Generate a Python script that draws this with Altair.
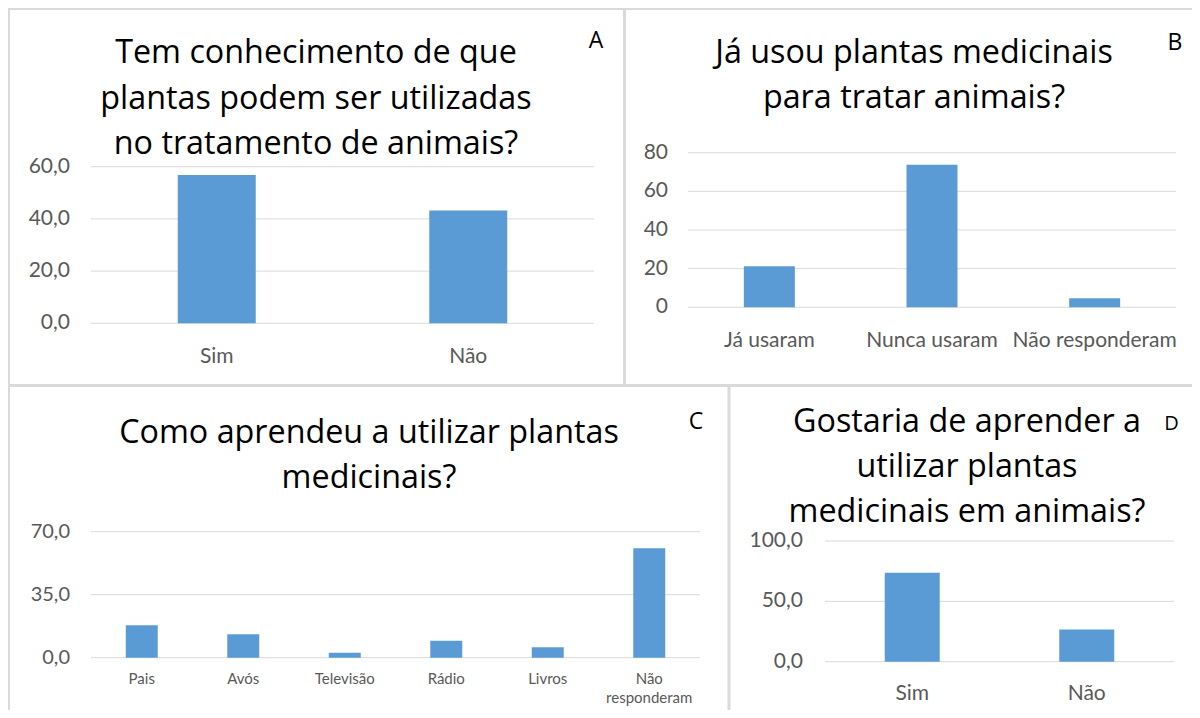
import altair as alt
import pandas as pd

# ---------------- data ----------------
a_title = ["Tem conhecimento de que", "plantas podem ser utilizadas", "no tratamento de animais?"]
a_cats = ["Sim", "Não"]
a_labels = ["Sim", "Não"]
a_vals = [56.8, 43.2]
a_ticks = [0, 20, 40, 60]
a_tick_labels = ["0,0", "20,0", "40,0", "60,0"]

b_title = ["Já usou plantas medicinais", "para tratar animais?"]
b_cats = ["Já usaram", "Nunca usaram", "Não responderam"]
b_labels = ["Já usaram", "Nunca usaram", "Não responderam"]
b_vals = [21.2, 73.7, 4.7]
b_ticks = [0, 20, 40, 60, 80]
b_tick_labels = ["0", "20", "40", "60", "80"]

c_title = ["Como aprendeu a utilizar plantas", "medicinais?"]
c_cats = ["Pais", "Avós", "Televisão", "Rádio", "Livros", "Não responderam"]
c_labels = ["Pais", "Avós", "Televisão", "Rádio", "Livros", "Não\nresponderam"]
c_vals = [18.0, 13.0, 2.8, 9.4, 5.8, 60.8]
c_ticks = [0, 35, 70]
c_tick_labels = ["0,0", "35,0", "70,0"]

d_title = ["Gostaria de aprender a", "utilizar plantas", "medicinais em animais?"]
d_cats = ["Sim", "Não"]
d_labels = ["Sim", "Não"]
d_vals = [73.6, 26.6]
d_ticks = [0, 50, 100]
d_tick_labels = ["0,0", "50,0", "100,0"]

# ---------------- style ----------------
FONT = "Lato"
TFONT = "Open Sans"
BLUE = "#5B9BD5"
GRID = "#D9D9D9"
GREY = "#595959"
BORDER = "#DADADA"
PAD = 4
O = 8 + PAD  # page margin + padding


def P(v):
    return v - O


one = pd.DataFrame({"k": [0]})


def panel(cats, labels, vals, ticks, tick_labels, title, L, letter):
    bars_df = pd.DataFrame({"cat": cats, "val": vals, "label": labels})
    ticks_df = pd.DataFrame({"v": ticks, "t": tick_labels})
    xs = alt.Scale(domain=cats, range=[P(L["gx0"]), P(L["gx1"])], paddingInner=0, paddingOuter=0)
    ys = alt.Scale(domain=[ticks[0], ticks[-1]], range=[P(L["y0"]), P(L["y1"])], nice=False)

    grid = alt.Chart(ticks_df).mark_rule(color=GRID, strokeWidth=1).encode(
        y=alt.Y("v:Q", scale=ys, axis=None),
        x=alt.value(P(L["gx0"])),
        x2=alt.value(P(L["gx1"])),
    )
    bars = alt.Chart(bars_df).mark_bar(size=L["bw"], color=BLUE).encode(
        x=alt.X("cat:N", scale=xs, axis=None),
        y=alt.Y("val:Q", scale=ys, axis=None),
    )
    tick_text = alt.Chart(ticks_df).mark_text(
        align="right", baseline="middle", font=FONT, fontSize=L["tfs"], color=GREY
    ).encode(
        y=alt.Y("v:Q", scale=ys, axis=None),
        x=alt.value(P(L["tx"])),
        text="t:N",
    )
    cat_text = alt.Chart(bars_df).mark_text(
        align="center", baseline="alphabetic", font=FONT, fontSize=L["cfs"], color=GREY,
        lineBreak="\n", lineHeight=L.get("clh", 20),
    ).encode(
        x=alt.X("cat:N", scale=xs, axis=None),
        y=alt.value(P(L["cy"])),
        text="label:N",
    )
    title_mark = alt.Chart(one).mark_text(
        text=title, align="center", baseline="alphabetic", font=TFONT, fontSize=L["hfs"],
        color="#000000", lineHeight=L["hlh"],
    ).encode(x=alt.value(P(L["hx"])), y=alt.value(P(L["hy"])))
    letter_mark = alt.Chart(one).mark_text(
        text=letter, align="center", baseline="alphabetic", font=TFONT, fontSize=L["lfs"],
        color="#000000",
    ).encode(x=alt.value(P(L["lx"])), y=alt.value(P(L["ly"])))
    return alt.layer(grid, bars, tick_text, cat_text, title_mark, letter_mark)


LA = dict(gx0=91, gx1=594, y0=323.3, y1=166.7, bw=78, tx=70, tfs=21, cy=363, cfs=21,
          hx=316, hy=63, hfs=32.3, hlh=45.5, lx=596, ly=48, lfs=23)
LB = dict(gx0=688, gx1=1176, y0=307.3, y1=152.7, bw=51, tx=668, tfs=21, cy=347, cfs=21,
          hx=914, hy=63, hfs=32.3, hlh=45, lx=1175, ly=50, lfs=23)
LC = dict(gx0=91, gx1=700, y0=657.7, y1=531.7, bw=32, tx=70, tfs=20, cy=684, cfs=15, clh=19,
          hx=369, hy=443, hfs=32.3, hlh=45, lx=696, ly=429, lfs=23)
LD = dict(gx0=825, gx1=1174, y0=661.7, y1=541, bw=55, tx=803, tfs=21, cy=700, cfs=21,
          hx=967, hy=431.7, hfs=32.3, hlh=45, lx=1171.5, ly=430, lfs=20)

pA = panel(a_cats, a_labels, a_vals, a_ticks, a_tick_labels, a_title, LA, "A")
pB = panel(b_cats, b_labels, b_vals, b_ticks, b_tick_labels, b_title, LB, "B")
pC = panel(c_cats, c_labels, c_vals, c_ticks, c_tick_labels, c_title, LC, "C")
pD = panel(d_cats, d_labels, d_vals, d_ticks, d_tick_labels, d_title, LD, "D")

# panel frame lines (decoration), in page pixels
frames = pd.DataFrame({
    "x": [7, 8.5, 624.5, 7, 729],
    "x2": [1200, 8.5, 624.5, 1200, 729],
    "y": [8.5, 8, 8, 385.5, 385],
    "y2": [8.5, 718, 386, 385.5, 718],
})
frames = frames - O
border = alt.Chart(frames).mark_rule(color=BORDER, strokeWidth=3).encode(
    x=alt.X("x:Q", scale=None), x2="x2:Q",
    y=alt.Y("y:Q", scale=None), y2="y2:Q",
)

chart = alt.layer(border, pA, pB, pC, pD).resolve_scale(
    x="independent", y="independent"
).properties(
    width=1200 - 16 - 2 * PAD,
    height=718 - 16 - 2 * PAD,
    padding=PAD,
    autosize="none",
    background="white",
).configure_view(stroke=None)

chart.save("out.html", embed_options={"renderer": "svg", "actions": False})
